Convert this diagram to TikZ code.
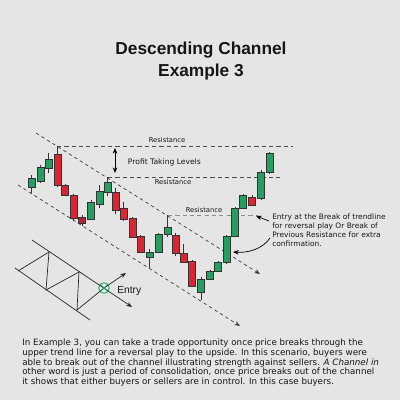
\documentclass[tikz,border=0pt]{standalone}
\usepackage{fontspec}
\setmainfont{DejaVu Sans}
\newfontfamily\headfont{Liberation Sans}
\usetikzlibrary{positioning, arrows.meta}
\definecolor{paper}{RGB}{229,229,229}
\definecolor{bull}{RGB}{38,158,96}
\definecolor{bear}{RGB}{216,38,50}
\definecolor{bearDark}{RGB}{176,40,54}
\definecolor{ink}{RGB}{22,22,22}

\begin{document}
\begin{tikzpicture}[x=0.025cm, y=-0.025cm]
		% Define styles
		\tikzset{
			candle/.style={draw=black!80, line width=0.35pt},
			wick/.style={draw=black!80, line width=0.35pt},
			trend/.style={draw=black!75, dash pattern=on 2.4pt off 2.2pt, line width=0.5pt},
			level/.style={draw=black!70, dash pattern=on 3pt off 2.2pt, line width=0.5pt},
			line/.style={draw, -{Stealth[length=4pt, width=3.2pt]}, line width=0.5pt},
			lbl/.style={font=\fontsize{4.8}{5.5}\selectfont, text=ink, inner sep=0.5pt},
			note/.style={font=\fontsize{5.3}{6.4}\selectfont, text=ink, align=left, inner sep=0pt},
			sketch/.style={draw=black!85, line width=0.5pt}
		}
		
		% Background and title
		\fill[paper] (0,0) rectangle (400,400);
		\node[font=\headfont\bfseries\fontsize{12.3}{15.6}\selectfont, align=center, text=ink] (title) at (201,61) {Descending Channel\\Example 3};
		
		% Channel lines
		\coordinate (up0) at (36,133);
		\coordinate (up1) at (260,274);
		\coordinate (lo0) at (18,185);
		\coordinate (lo1) at (240,326);
		\draw[trend, -{Stealth[length=4pt, width=3.2pt]}] (up0) -- (up1);
		\draw[trend, -{Stealth[length=4pt, width=3.2pt]}] (lo0) -- (lo1);
		
		% Resistance levels
		\coordinate (r1a) at (57,146);
		\coordinate (r1b) at (293,146);
		\coordinate (r2a) at (108,177);
		\coordinate (r2b) at (281,177);
		\coordinate (r3a) at (168,215);
		\coordinate (r3b) at (258,215);
		\draw[level] (r1a) -- (r1b);
		\draw[level] (r2a) -- (r2b);
		\draw[level, draw=black!45] (r3a) -- (r3b);
		
		\node[lbl] (res1) at (167,140) {Resistance};
		\node[lbl] (res2) at (173,182) {Resistance};
		\node[lbl] (res3) at (204,210) {Resistance};
		\node[lbl, font=\fontsize{5.4}{6}\selectfont, anchor=west] (profit) at (127,162) {Profit Taking Levels};
		\coordinate (p0) at (115,148);
		\coordinate (p1) at (115,173);
		\draw[line, {Stealth[length=4pt, width=3.2pt]}-{Stealth[length=4pt, width=3.2pt]}] (p0) -- (p1);
		
		% Candles
		\foreach \cx/\wt/\bt/\bb/\wb/\col in {
			31.5/175/178/187/194/bull, 40.5/165/167/181/183/bull, 48.5/153/159/168/173/bull,
			57.5/146/154/185/187/bear, 65/184/185/195/196/bear, 73.5/194/195/218/220/bear,
			82/215/217/223/226/bearDark, 91/200/202/219/220/bull, 99.5/185/191/204/208/bull,
			107.5/177/182/192/196/bull, 115.5/188/192/210/214/bear, 123.5/202/208/219/221/bear,
			132.5/217/218/237/238/bear, 140.5/235/236/252/253/bear, 149.5/249/252/257/268/bull,
			158.5/233/234/252/253/bull, 167.5/215/227/234/237/bull, 175.5/233/235/253/256/bear,
			183.5/244/253/262/263/bear, 192/260/261/286/287/bear, 201/277/279/292/300/bull,
			210/270/271/279/280/bull, 218/261/262/271/272/bull, 226.5/235/236/262/264/bull,
			235/207/208/236/237/bull, 243/194/195/208/209/bull, 252/195/197/205/206/bear,
			261/170/172/198/200/bull, 269.5/152/153/172/174/bull} {
			\draw[wick] (\cx,\wt) -- (\cx,\wb);
			\draw[candle, fill=\col] (\cx-3.5,\bt) rectangle (\cx+3.5,\bb);
		}
		
		% Entry note
		\node[note, anchor=north west] (entrynote) at (272,214) {Entry at the Break of trendline\\for reversal play Or Break of\\Previous Resistance for extra\\confirmation.};
		\coordinate (hit1) at (256,216);
		\coordinate (hit2) at (233,252);
		\draw[line] ([shift={(-3,7)}]entrynote.north west) -- (hit1);
		\draw[line] ([shift={(-2,24)}]entrynote.north west) .. controls (262,250) and (246,253) .. (hit2);
		
		% Small channel sketch
		\coordinate (s0) at (32,240);
		\coordinate (s1) at (15,268);
		\coordinate (s2) at (90,320);
		\coordinate (z1) at (18,271);
		\coordinate (z2) at (49,252);
		\coordinate (z3) at (46,290);
		\coordinate (z4) at (79,272);
		\coordinate (z5) at (77,310);
		\coordinate (out1) at (132,307);
		\coordinate (out2) at (126,273);
		\node[circle, draw=bull, fill=bull!12, line width=0.6pt, minimum size=7.5pt, inner sep=0pt] (brk) at (104,288) {};
		\draw[sketch] (s1) -- (s2);
		\draw[sketch] (z1) -- (z2) -- (z3) -- (z4) -- (z5) -- (brk.center);
		\draw[sketch, line] (s0) -- (out1);
		\draw[sketch, line] (brk.center) -- (out2);
		\draw[bull, line width=0.6pt] (brk.north west) -- (brk.south east) (brk.north east) -- (brk.south west);
		\node[font=\headfont\fontsize{7.3}{8}\selectfont, text=ink, anchor=west, inner sep=0pt] (entry) at (117,291) {Entry};
		
		% Text
		\node[note, font=\fontsize{6.2}{6.85}\selectfont, anchor=north west] (story) at (22,339) {In Example 3, you can take a trade opportunity once price breaks through the\\upper trend line for a reversal play to the upside. In this scenario, buyers were\\able to break out of the channel illustrating strength against sellers. \textit{A Channel in}\\other word is just a period of consolidation, once price breaks out of the channel\\it shows that either buyers or sellers are in control. In this case buyers.};
	\end{tikzpicture}
\end{document}
